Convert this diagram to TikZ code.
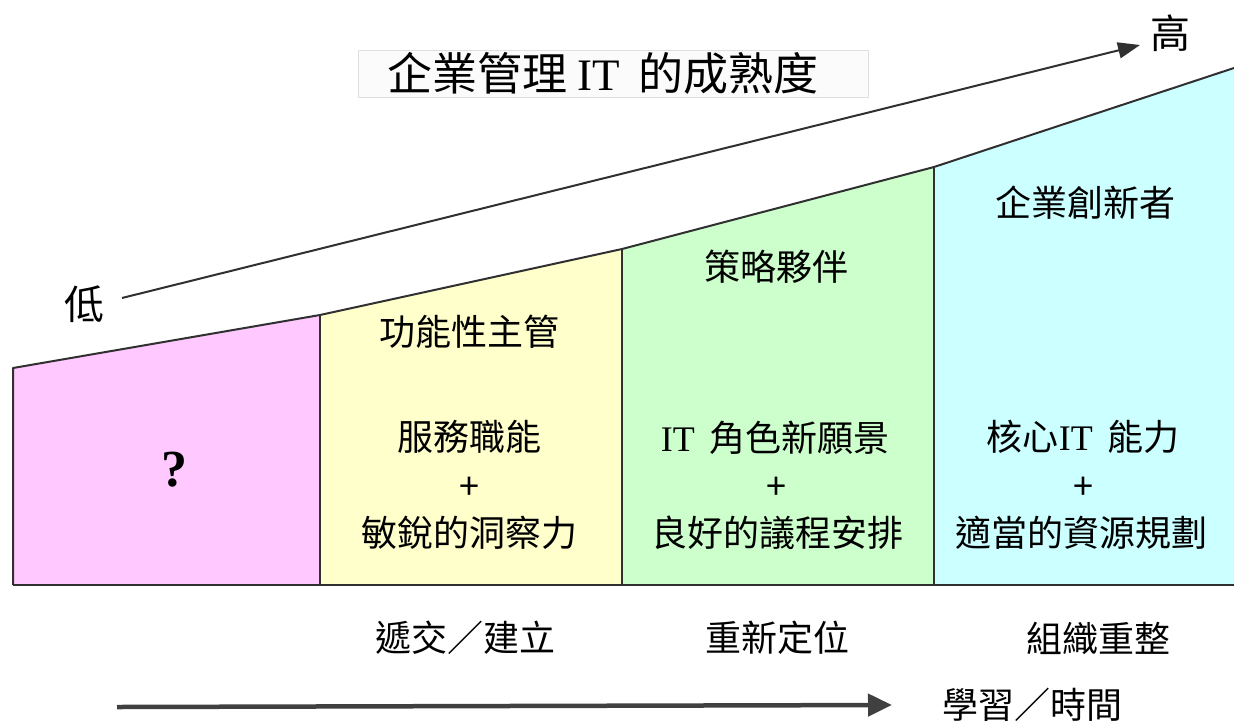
\documentclass[tikz,border=0pt]{standalone}
\usepackage{fontspec}
\setmainfont{Noto Sans CJK TC}
\newfontfamily\serf{Liberation Serif}
\usetikzlibrary{arrows.meta}
\definecolor{pinkf}{HTML}{FFC8FF}
\definecolor{yelf}{HTML}{FFFFCC}
\definecolor{grnf}{HTML}{CCFFCC}
\definecolor{cyanf}{HTML}{CCFFFF}
\definecolor{edgec}{HTML}{303030}
\begin{document}
\begin{tikzpicture}[x=1pt,y=-1pt,
  txt/.style={font=\fontsize{36}{40}\selectfont, inner sep=0pt, anchor=center},
  big/.style={font=\fontsize{40}{44}\selectfont, inner sep=0pt, anchor=center},
  boxline/.style={draw=edgec, line width=2pt, line join=round},
  toparrow/.style={draw=edgec, line width=2pt, -{Triangle[length=22pt,width=16pt]}},
  botarrow/.style={draw=black!75, line width=4.5pt, -{Triangle[length=24pt,width=22pt]}}]
\useasboundingbox (0,0) rectangle (1234,724);
% outline coordinates
\coordinate (p0) at (13,368);
\coordinate (p1) at (320,315);
\coordinate (p2) at (622,249);
\coordinate (p3) at (934,167);
\coordinate (p4) at (1234,68);
\coordinate (b0) at (13,585);
\coordinate (b1) at (320,585);
\coordinate (b2) at (622,585);
\coordinate (b3) at (934,585);
\coordinate (b4) at (1234,585);
% fills
\fill[pinkf] (b0) -- (p0) -- (p1) -- (b1) -- cycle;
\fill[yelf] (b1) -- (p1) -- (p2) -- (b2) -- cycle;
\fill[grnf] (b2) -- (p2) -- (p3) -- (b3) -- cycle;
\fill[cyanf] (b3) -- (p3) -- (p4) -- (b4) -- cycle;
% outlines
\draw[boxline] (b0) -- (p0) -- (p1) -- (p2) -- (p3) -- (p4);
\draw[boxline] (b0) -- (b4);
\draw[boxline] (b1) -- (p1);
\draw[boxline] (b2) -- (p2);
\draw[boxline] (b3) -- (p3);
% title
\node[draw=gray!25, fill=gray!3, line width=1pt, minimum width=510pt, minimum height=47pt, inner sep=0pt] (title) at (613,74) {};
\node[font=\fontsize{45}{48}\selectfont, inner sep=0pt] (titletext) at (603,73) {企業管理 {\serf IT}\hspace{0.4em}的成熟度};
% low / high
\node[big] (lo) at (84,304) {低};
\node[big] (hi) at (1170,33) {高};
\coordinate (ta) at (122,298);
\coordinate (tb) at (1140,45);
\draw[toparrow] (ta) -- (tb);
% pink
\node[font=\serf\bfseries\fontsize{52}{56}\selectfont, inner sep=0pt] (q) at (174,470) {?};
% yellow
\node[txt] (y1) at (469,332) {功能性主管};
\node[txt] (y2) at (469,437) {服務職能};
\node[txt] (y3) at (469,488) {+};
\node[txt] (y4) at (469,533) {敏銳的洞察力};
% green
\node[txt] (g1) at (776,267) {策略夥伴};
\node[txt] (g2) at (775,438) {{\serf IT}\hspace{0.4em}角色新願景};
\node[txt] (g3) at (776,488) {+};
\node[txt] (g4) at (777,533) {良好的議程安排};
% cyan
\node[txt] (c1) at (1085,203) {企業創新者};
\node[txt] (c2) at (1083,437) {核心{\serf IT}\hspace{0.4em}能力};
\node[txt] (c3) at (1083,488) {+};
\node[txt] (c4) at (1081,533) {適當的資源規劃};
% stage labels
\node[txt] (s1) at (465,638) {遞交／建立};
\node[txt] (s2) at (777,638) {重新定位};
\node[txt] (s3) at (1098,638) {組織重整};
% time axis
\node[txt] (tl) at (1032,705) {學習／時間};
\coordinate (ba) at (117,707);
\draw[botarrow] (ba) -- (tl.west -| 892,707);
\end{tikzpicture}
\end{document}
